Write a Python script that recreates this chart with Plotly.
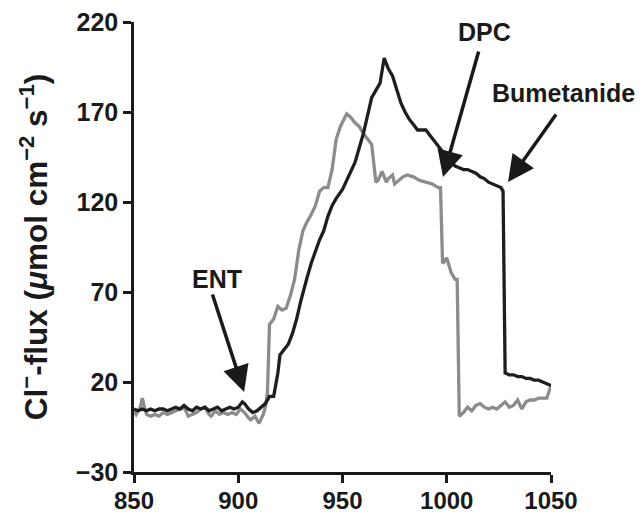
import plotly.graph_objects as go

# ---- data ----
time_black = [850, 852, 854, 856, 858, 860, 862, 864, 866, 868, 870, 872, 874, 876, 878, 880,
              882, 884, 886, 888, 890, 892, 894, 896, 898, 900, 902, 903, 905, 907, 909, 911,
              913, 915, 917, 919, 920, 922, 924, 926, 928, 930, 931, 933, 935, 937, 939, 941,
              943, 945, 947, 950, 952, 954, 956, 958, 960, 962, 964, 966, 968, 970, 972, 974,
              976, 978, 980, 982, 984, 986, 988, 990, 992, 994, 996, 998, 1000, 1002, 1004,
              1006, 1008, 1010, 1012, 1014, 1016, 1018, 1020, 1022, 1024, 1026, 1027, 1028,
              1030, 1032, 1034, 1036, 1038, 1040, 1042, 1044, 1046, 1048, 1050]
flux_black = [5, 4, 5, 4, 5, 4, 5, 5, 4, 5, 6, 5, 7, 5, 4, 6,
              5, 6, 4, 5, 6, 4, 5, 6, 5, 6, 9, 8, 5, 3, 4, 6,
              8, 12, 12, 25, 35, 38, 41, 47, 55, 65, 70, 78, 86, 93, 99, 104,
              112, 118, 122, 127, 132, 137, 142, 150, 158, 168, 178, 182, 186, 200, 194, 190,
              183, 175, 170, 166, 163, 160, 160, 160, 157, 154, 151, 148, 144, 142, 140,
              139, 138, 138, 137, 136, 134, 133, 131, 130, 129, 128, 126, 25,
              24, 24, 23, 23, 22, 22, 21, 21, 20, 19, 18]

time_gray = [850, 851, 853, 854, 855, 856, 858, 860, 862, 864, 866, 868, 870, 872, 874, 876,
             878, 880, 882, 884, 886, 887, 889, 891, 893, 895, 897, 899, 901, 903, 905, 906,
             908, 910, 912, 913, 914, 915, 917, 919, 921, 923, 925, 927, 929, 931, 933, 935,
             937, 939, 941, 943, 945, 947, 949, 951, 952, 954, 956, 958, 960, 962, 964, 966,
             967, 969, 971, 972, 974, 975, 977, 979, 981, 984, 987, 990, 993, 996, 997, 998,
             999, 1000, 1002, 1004, 1005, 1006, 1008, 1010, 1012, 1014, 1016, 1018, 1020,
             1022, 1024, 1026, 1028, 1030, 1032, 1034, 1036, 1038, 1040, 1042, 1044, 1046,
             1048, 1050]
flux_gray = [4, 2, 6, 11, 6, 2, 1, 2, 1, 3, 2, 3, 4, 5, 6, 1,
             2, 3, 5, 6, 2, 1, 4, 2, 3, 2, 3, 2, 5, 3, 0, -1,
             1, -3, 2, 6, 14, 52, 55, 62, 60, 61, 68, 77, 93, 104, 109, 113,
             118, 126, 128, 128, 138, 155, 162, 167, 169, 167, 164, 162, 158, 155, 152, 131,
             132, 137, 131, 133, 135, 130, 132, 134, 135, 134, 132, 131, 130, 128, 128, 86,
             87, 89, 81, 77, 77, 1, 3, 6, 4, 7, 8, 6, 5,
             6, 5, 7, 9, 6, 7, 10, 5, 9, 10, 10, 11, 11,
             11, 18]

y_ticks = [-30, 20, 70, 120, 170, 220]
x_ticks = [850, 900, 950, 1000, 1050]
x_range = [850, 1050]
y_range = [-30, 220]

labels = ["ENT", "DPC", "Bumetanide"]
label_pos = [(889.8, 77.5), (1018.3, 214.4), (1056.2, 180.6)]
arrow_tip = [(902.8, 14.4), (998.2, 133.9), (1029.4, 131.1)]
arrow_tail = [(887.4, 69.4), (1015.5, 204.4), (1052.9, 169.4)]

FONT = "Liberation Sans"


def to_paper(v, rng):
    return (v - rng[0]) / (rng[1] - rng[0])


fig = go.Figure()
fig.add_trace(go.Scatter(x=time_gray, y=flux_gray, mode="lines",
                         line=dict(color="#8c8c8c", width=3.3), showlegend=False))
fig.add_trace(go.Scatter(x=time_black, y=flux_black, mode="lines",
                         line=dict(color="#1e1e1e", width=3.3), showlegend=False))

for txt, (tx, ty), (hx, hy), (ax, ay) in zip(labels, label_pos, arrow_tip, arrow_tail):
    fig.add_annotation(x=to_paper(tx, x_range), y=to_paper(ty, y_range),
                       xref="paper", yref="paper", xanchor="center", yanchor="middle",
                       text="<b>%s</b>" % txt,
                       showarrow=False, font=dict(family=FONT, size=25, color="#1a1a1a"))
    fig.add_annotation(x=hx, y=hy, xref="x", yref="y", ax=ax, ay=ay, axref="x", ayref="y",
                       text="", showarrow=True, arrowhead=2, arrowsize=1.5, arrowwidth=3.5,
                       arrowcolor="#1a1a1a")

# the page body adds an 8 px offset; size and margins compensate for it
fig.update_layout(
    width=635, height=506,
    margin=dict(l=126, r=92, t=14, b=42),
    paper_bgcolor="white", plot_bgcolor="white",
    font=dict(family=FONT, color="#1a1a1a"),
)
fig.update_xaxes(range=x_range, tickvals=x_ticks, ticks="outside", ticklen=8, tickwidth=2.5,
                 tickcolor="#1a1a1a", showline=True, linewidth=2.5, linecolor="#1a1a1a",
                 showgrid=False, zeroline=False, automargin=False, ticklabeloverflow="allow",
                 ticklabelstandoff=-3,
                 tickfont=dict(family=FONT, size=24, weight="bold"))
fig.update_yaxes(range=y_range, tickvals=y_ticks, ticks="outside", ticklen=8, tickwidth=2.5,
                 tickcolor="#1a1a1a", showline=True, linewidth=2.5, linecolor="#1a1a1a",
                 showgrid=False, zeroline=False, automargin=False, ticklabeloverflow="allow",
                 tickfont=dict(family=FONT, size=25, weight="bold"),
                 title=dict(text="<b>Cl<sup>−</sup>-flux (<i>μ</i>mol cm<sup>−2</sup> s<sup>−1</sup>)</b>",
                            font=dict(family=FONT, size=31.5), standoff=19))

fig.write_html("out.html")
